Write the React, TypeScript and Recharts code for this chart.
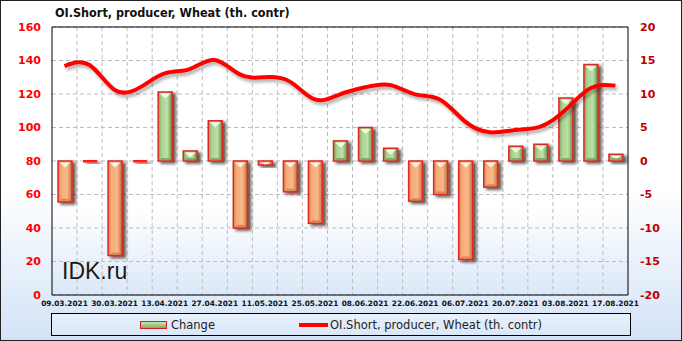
import React from "react";
import {
  ComposedChart,
  Bar,
  Line,
  XAxis,
  YAxis,
  CartesianGrid,
  ReferenceLine,
  Legend,
} from "recharts";

const dates = [
  "09.03.2021", "16.03.2021", "30.03.2021", "06.04.2021", "13.04.2021", "20.04.2021",
  "27.04.2021", "04.05.2021", "11.05.2021", "18.05.2021", "25.05.2021", "01.06.2021",
  "08.06.2021", "15.06.2021", "22.06.2021", "29.06.2021", "06.07.2021", "13.07.2021",
  "20.07.2021", "27.07.2021", "03.08.2021", "10.08.2021", "17.08.2021",
];
const changeValues = [
  -6.1, 0, -14.1, 0, 10.3, 1.5, 6.0, -10.0, -0.6, -4.6, -9.3, 3.0,
  5.0, 1.9, -6.0, -5.0, -14.7, -3.9, 2.2, 2.5, 9.4, 14.4, 1.0,
];
const oiValues = [
  136.7, 137.3, 122.5, 123.8, 132.3, 134.9, 140.3, 131.7, 130.0, 127.4, 116.8, 119.8,
  124.0, 125.4, 119.8, 116.6, 103.5, 97.1, 98.5, 100.5, 110.4, 123.4, 125.0,
];
const leftTicks = [0, 20, 40, 60, 80, 100, 120, 140, 160];
const rightTicks = [-20, -15, -10, -5, 0, 5, 10, 15, 20];
const seriesNames = ["Change", "OI.Short, producer, Wheat (th. contr)"];
const titleText = "OI.Short, producer, Wheat (th. contr)";

const data = dates.map((d, i) => ({ date: d, change: changeValues[i], oi: oiValues[i] }));

const BarShape = (props: any) => {
  const { x, y, width, height, payload } = props;
  const top = Math.min(y, y + height);
  const h = Math.abs(height);
  const pos = payload.change >= 0;
  if (h < 1.5) {
    return (
      <rect x={x} y={top - 1} width={width} height={2.5} fill="#ff1a1a" filter="url(#barShadow)" />
    );
  }
  const fill = pos ? "url(#greenGrad)" : "url(#orangeGrad)";
  const tri = pos ? "#eefbe2" : "#fff1e2";
  const dark = pos ? "#5f8c45" : "#c06a36";
  const triH = Math.min(5, h / 2);
  return (
    <g>
      <rect x={x} y={top} width={width} height={h} fill={fill} stroke="#e02828" strokeWidth={1.5} filter="url(#barShadow)" />
      <polygon
        points={`${x + 1.5},${top + 1.5} ${x + width - 1.5},${top + 1.5} ${x + width / 2},${top + 1.5 + triH}`}
        fill={tri}
      />
      {h > 6 && (
        <polygon
          points={`${x + 1.5},${top + h - 1} ${x + width - 1.5},${top + h - 1} ${x + width - 4},${top + h - 3} ${x + 4},${top + h - 3}`}
          fill={dark}
          opacity={0.6}
        />
      )}
    </g>
  );
};

const LegendContent = () => (
  <div
    style={{
      boxSizing: "border-box",
      width: 580,
      height: 23,
      border: "1px solid #000",
      background: "linear-gradient(to bottom, #e9f1fb, #d9e7f8)",
      display: "flex",
      alignItems: "center",
      justifyContent: "center",
      fontFamily: "DejaVu Sans, sans-serif",
      fontSize: 11.5,
      color: "#222",
    }}
  >
    <div style={{ display: "flex", alignItems: "center", marginRight: 84 }}>
      <div
        style={{
          width: 25,
          height: 6,
          border: "1.5px solid #d42020",
          background: "linear-gradient(to bottom, #c8e6b4, #7fae5e)",
          marginRight: 4,
        }}
      />
      <span>{seriesNames[0]}</span>
    </div>
    <div style={{ display: "flex", alignItems: "center" }}>
      <div style={{ width: 29, height: 4, background: "#ff0000", marginRight: 2 }} />
      <span>{seriesNames[1]}</span>
    </div>
  </div>
);

export default function App() {
  const n = dates.length;
  return (
    <div
      style={{
        position: "absolute",
        left: 0,
        top: 0,
        width: 682,
        height: 341,
        boxSizing: "border-box",
        border: "1px solid #222",
        background: "linear-gradient(to bottom, #ffffff 0%, #ffffff 55%, #d3e3f7 100%)",
        overflow: "hidden",
      }}
    >
      <div
        style={{
          position: "absolute",
          left: 54,
          top: 4,
          fontFamily: "DejaVu Sans Condensed, DejaVu Sans, sans-serif",
          fontWeight: "bold",
          fontSize: 12.5,
          color: "#111",
          whiteSpace: "nowrap",
        }}
      >
        {titleText}
      </div>
      <div style={{ position: "absolute", left: -1, top: -1 }}>
        <ComposedChart
          width={682}
          height={341}
          data={data}
          margin={{ top: 27, right: 0, left: 0, bottom: 5 }}
          barCategoryGap={0}
        >
          <defs>
            <linearGradient id="plotBg" x1="0" y1="0" x2="0" y2="1">
              <stop offset="0%" stopColor="#ffffff" />
              <stop offset="68%" stopColor="#ffffff" />
              <stop offset="100%" stopColor="#dbe8f8" />
            </linearGradient>
            <linearGradient id="greenGrad" x1="0" y1="0" x2="1" y2="0">
              <stop offset="0%" stopColor="#76a15a" />
              <stop offset="25%" stopColor="#abd391" />
              <stop offset="65%" stopColor="#bde0a6" />
              <stop offset="100%" stopColor="#638c47" />
            </linearGradient>
            <linearGradient id="orangeGrad" x1="0" y1="0" x2="1" y2="0">
              <stop offset="0%" stopColor="#d98450" />
              <stop offset="25%" stopColor="#f6ad7a" />
              <stop offset="65%" stopColor="#f9b887" />
              <stop offset="100%" stopColor="#bf6e3c" />
            </linearGradient>
            <filter id="barShadow" x="-50%" y="-50%" width="200%" height="200%">
              <feDropShadow dx="3" dy="2" stdDeviation="1.4" floodColor="#1a0a00" floodOpacity="0.7" />
            </filter>
            <filter id="lineShadow" x="-10%" y="-50%" width="120%" height="200%">
              <feDropShadow dx="2" dy="3" stdDeviation="1.5" floodColor="#000" floodOpacity="0.3" />
            </filter>
          </defs>
          <CartesianGrid
            yAxisId="left"
            stroke="#bdbdbd"
            strokeDasharray="4 3"
            fill="url(#plotBg)"
            verticalCoordinatesGenerator={({ offset }: any) =>
              Array.from({ length: n - 1 }, (_, i) => offset.left + ((i + 1) * offset.width) / n)
            }
          />
          <XAxis
            dataKey="date"
            interval={1}
            height={18}
            tickLine={false}
            tickSize={0}
            tickMargin={6}
            axisLine={{ stroke: "#000" }}
            tick={{ fill: "#111", fontSize: 7.4, fontWeight: "bold", fontFamily: "DejaVu Sans, sans-serif" }}
          />
          <YAxis
            yAxisId="left"
            domain={[0, 160]}
            ticks={leftTicks}
            width={52}
            tickLine={false}
            tickSize={0}
            tickMargin={11}
            axisLine={{ stroke: "#000" }}
            tick={{ fill: "#ff0000", fontSize: 11, fontWeight: "bold", fontFamily: "DejaVu Sans, sans-serif" }}
          />
          <YAxis
            yAxisId="right"
            orientation="right"
            domain={[-20, 20]}
            ticks={rightTicks}
            width={54}
            tickLine={false}
            tickSize={0}
            tickMargin={12}
            axisLine={{ stroke: "#000" }}
            tick={{ fill: "#c00000", fontSize: 11, fontWeight: "bold", fontFamily: "DejaVu Sans, sans-serif" }}
          />
          <ReferenceLine yAxisId="left" y={160} stroke="#000" />
          <Bar
            yAxisId="right"
            dataKey="change"
            barSize={14}
            shape={BarShape}
            isAnimationActive={false}
          />
          <Line
            yAxisId="left"
            dataKey="oi"
            type="natural"
            stroke="#ff0000"
            strokeWidth={4}
            dot={false}
            filter="url(#lineShadow)"
            isAnimationActive={false}
          />
          <Legend
            verticalAlign="bottom"
            content={<LegendContent />}
            wrapperStyle={{ left: 51, width: 580, height: 23 }}
          />
        </ComposedChart>
      </div>
      <div
        style={{
          position: "absolute",
          left: 61,
          top: 257,
          fontFamily: "Liberation Sans, Arial, sans-serif",
          fontSize: 23,
          color: "#1a1a1a",
          pointerEvents: "none",
        }}
      >
        IDK.ru
      </div>
    </div>
  );
}
